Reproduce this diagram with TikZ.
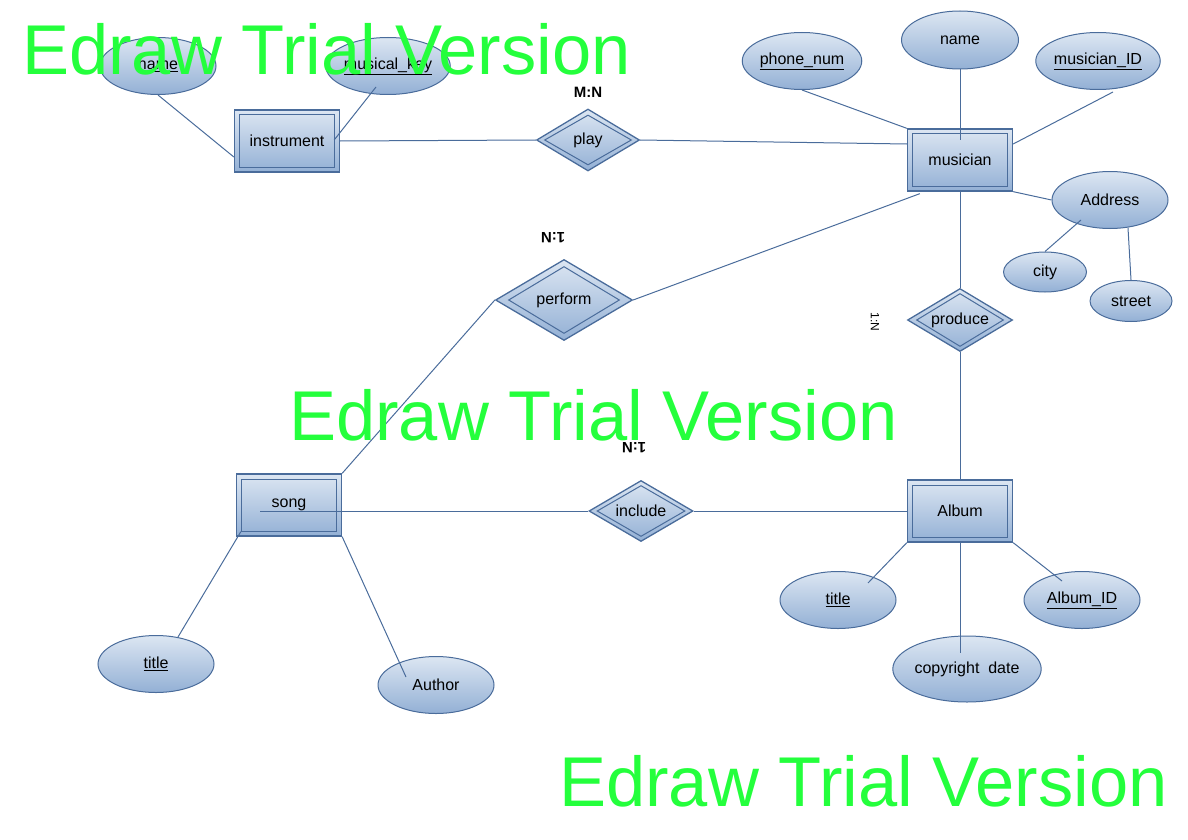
\documentclass[tikz,border=0pt]{standalone}
\usepackage{fontspec}
\setmainfont{Liberation Sans}
\usetikzlibrary{shapes.geometric,calc}
\definecolor{edge}{HTML}{4A6C9B}
\definecolor{ftop}{HTML}{DCE6F2}
\definecolor{fbot}{HTML}{93B0D5}
\definecolor{wm}{HTML}{24FF3C}
\begin{document}
\begin{tikzpicture}[x=1pt,y=-1pt,
  every node/.style={font=\fontsize{16}{19}\selectfont, inner sep=0pt, text=black},
  ent/.style={rectangle, draw=edge, line width=1.3pt, top color=ftop, bottom color=fbot, minimum width=105pt, minimum height=62pt},
  entin/.style={rectangle, draw=edge, line width=1pt, minimum width=95pt, minimum height=52pt},
  rel/.style={diamond, aspect=1.7, draw=edge, line width=1.3pt, top color=ftop, bottom color=fbot},
  relin/.style={diamond, aspect=1.7, draw=edge, line width=1pt},
  attr/.style={ellipse, draw=edge, line width=1pt, top color=ftop, bottom color=fbot, minimum width=116pt, minimum height=57pt},
  conn/.style={draw=edge, line width=1pt},
  card/.style={font=\bfseries\fontsize{15}{18}\selectfont},
  wmark/.style={font=\fontsize{70.5}{80}\selectfont, text=wm, anchor=base west}
]
\useasboundingbox (0,0) rectangle (1188,840);

% entities
\node[ent] (inst) at (287,141) {instrument};
\node[entin] (inst-in) at (287,141) {};
\node[ent] (mus) at (960,160) {musician};
\node[entin] (mus-in) at (960,160) {};
\node[ent] (song) at (289,505) {song};
\node[entin] (song-in) at (289,505) {};
\node[ent] (alb) at (960,511) {Album};
\node[entin] (alb-in) at (960,511) {};

% relationships
\node[rel, minimum width=103pt, minimum height=62pt] (play) at (588,140) {play};
\node[relin, minimum width=87pt, minimum height=50pt] (play-in) at (588,140) {};
\node[rel, minimum width=137pt, minimum height=81pt] (perf) at (564,300) {perform};
\node[relin, minimum width=111pt, minimum height=67pt] (perf-in) at (564,300) {};
\node[rel, minimum width=105pt, minimum height=63pt] (prod) at (960,320) {produce};
\node[relin, minimum width=87pt, minimum height=53pt] (prod-in) at (960,320) {};
\node[rel, minimum width=104pt, minimum height=61pt] (inc) at (641,511) {include};
\node[relin, minimum width=88pt, minimum height=51pt] (inc-in) at (641,511) {};

% attributes
\node[attr] (iname) at (158,66) {\underline{name}};
\node[attr] (mkey) at (388,66) {\underline{musical\_key}};
\node[attr] (phone) at (802,61) {\underline{phone\_num}};
\node[attr, minimum width=117pt, minimum height=58pt] (mname) at (960,40) {name};
\node[attr] (mid) at (1098,61) {\underline{musician\_ID}};
\node[attr] (addr) at (1110,200) {Address};
\node[attr, minimum width=83pt, minimum height=40pt] (city) at (1045,272) {city};
\node[attr, minimum width=82pt, minimum height=41pt] (street) at (1131,301) {street};
\node[attr] (stitle) at (156,664) {\underline{title}};
\node[attr] (auth) at (436,685) {Author};
\node[attr] (atitle) at (838,600) {\underline{title}};
\node[attr] (aid) at (1082,600) {\underline{Album\_ID}};
\node[attr, minimum width=130pt, minimum height=66pt] (cdate) at (967,669) {copyright~~date};

% cardinalities
\node[card] (c1) at (588,92) {M:N};
\node[card, rotate=180] (c2) at (553,238) {1:N};
\node[font=\fontsize{12}{14}\selectfont, rotate=-90] (c3) at (875,322) {1:N};
\node[card, rotate=180] (c4) at (634,448) {1:N};

% connectors
\draw[conn] (iname.south) -- ($(inst.west)+(0,16)$);
\draw[conn] ($(mkey.center)+(-12,21)$) -- ($(inst.east)+(-6,-1)$);
\draw[conn] (inst.east) -- (play.west);
\draw[conn] (play.east) -- ($(mus.west)+(0,-16)$);
\draw[conn] (mname.south) -- ($(mus.center)+(0,-20)$);
\draw[conn] (phone.south) -- (mus.north west);
\draw[conn] ($(mid.center)+(15,31)$) -- ($(mus.east)+(0,-16)$);
\draw[conn] (mus.south east) -- (addr.west);
\draw[conn] ($(addr.center)+(-29,20)$) -- (city.north);
\draw[conn] ($(addr.center)+(18,28)$) -- (street.north);
\draw[conn] ($(mus.south west)+(13,2)$) -- (perf.east);
\draw[conn] (mus.south) -- (prod.north);
\draw[conn] (prod.south) -- (alb.north);
\draw[conn] (perf.west) -- (song.north east);
\draw[conn] ($(song.center)+(-29,6)$) -- (inc.west);
\draw[conn] (inc.east) -- (alb.west);
\draw[conn] (alb.south west) -- ($(atitle.center)+(30,-17)$);
\draw[conn] (alb.south east) -- ($(aid.center)+(-20,-19)$);
\draw[conn] (alb.south) -- ($(cdate.center)+(-7,-16)$);
\draw[conn] ($(song.south west)+(5,-5)$) -- ($(stitle.center)+(22,-27)$);
\draw[conn] (song.south east) -- ($(auth.center)+(-30,-8)$);

% watermarks
\node[wmark] (w1) at (22,75) {Edraw Trial Version};
\node[wmark] (w2) at (289,440) {Edraw Trial Version};
\node[wmark] (w3) at (559,806) {Edraw Trial Version};
\end{tikzpicture}
\end{document}
